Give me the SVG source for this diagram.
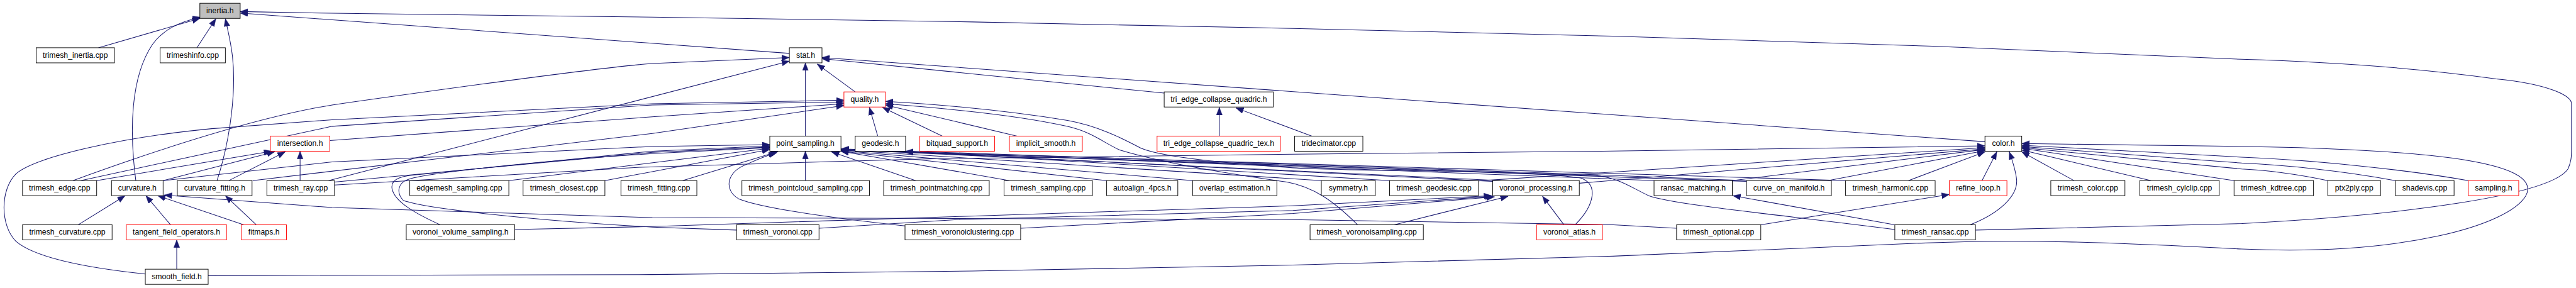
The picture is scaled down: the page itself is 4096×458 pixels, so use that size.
<svg xmlns="http://www.w3.org/2000/svg" width="4096" height="458" viewBox="0 0 4096 458">
<defs>
<style>
.n rect{fill:#fff;stroke:#000;stroke-width:1}
.n.r rect{stroke:#f00}
.n.g rect{fill:#bfbfbf}
.n text{font-family:"Liberation Sans",Arial,sans-serif;font-size:13px;text-anchor:middle;fill:#000}
#edges path{fill:none;stroke:#191970;stroke-width:1.1;marker-end:url(#a)}
</style>
<marker id="a" markerUnits="userSpaceOnUse" markerWidth="14" markerHeight="11" refX="13" refY="5" orient="auto">
<path d="M0,0 L13,5 L0,10 z" fill="#191970" stroke="#191970" stroke-width="0.5"/>
</marker>
</defs>
<rect width="4096" height="458" fill="#fff"/>
<g transform="scale(0.943)">
<g id="edges">
<path d="M166,80.5 L337,31"/>
<path d="M332,80.5 L364,31.5"/>
<path d="M229,304.5 C218,220 220,130 257,75 C275,50 300,38 338,29"/>
<path d="M366,304.5 C390,230 398,150 392,95 C389,70 385,55 380,31.5"/>
<path d="M1331,90 L405,22"/>
<path d="M3331,388 L3780,377 C4050,363 4300,330 4330,285 C4336,272 4336,262 4336,250 L4336,175 C4336,162 4300,142 4209,133 C4100,118 3950,105 3780,100 L3260,78 L2720,61 L2180,48 L1640,37 L1100,29 L540,22 L405,19.5"/>
<path d="M123,304.5 C300,240 450,195 560,177 C750,150 1000,115 1100,107 L1331,97"/>
<path d="M554,304.5 L1331,103"/>
<path d="M1358,229.5 L1358,106"/>
<path d="M1442,155 L1378,108"/>
<path d="M1963,157 L1386,99"/>
<path d="M3347,239 L1386,97"/>
<path d="M245,462 C150,452 60,435 27,407 C0,380 0,320 27,293 C60,265 200,232 357,217 L560,202 L1100,175 L1423,169"/>
<path d="M136,304.5 L560,213 L1100,177 L1423,172"/>
<path d="M556,237 L1100,197 L1423,175"/>
<path d="M426,304.5 L1100,225 L1423,178"/>
<path d="M1715,229.5 L1493,177"/>
<path d="M1589,229.5 L1488,181"/>
<path d="M1480,229.5 L1466,181"/>
<path d="M2656,379 C2690,345 2695,310 2665,300 C2550,285 2300,290 2180,283 C2060,275 1960,265 1924,250 C1890,232 1850,212 1800,203 C1700,187 1600,177 1493,171"/>
<path d="M2289,379 C2250,340 2215,315 2170,307 C2050,290 1950,272 1888,253 C1860,240 1840,222 1799,213 C1720,195 1600,183 1493,175"/>
<path d="M163,304.5 L458,255"/>
<path d="M275,304.5 L463,256"/>
<path d="M386,304.5 L481,256"/>
<path d="M506,304.5 L506,255"/>
<path d="M132,379 L211,330"/>
<path d="M287.5,379 L246,330"/>
<path d="M411,379 L266,330"/>
<path d="M2827,385 L2720,379 L2160,370 L1100,367 L560,350 L277,329"/>
<path d="M432,379 L380,330"/>
<path d="M298,454 L298,404.5"/>
<path d="M275,304.5 L560,273 L1100,247 L1298,244"/>
<path d="M564,307 L1100,257 L1298,248"/>
<path d="M858,304.5 L1298,250"/>
<path d="M1020,304.5 L1298,252"/>
<path d="M1151,304.5 L1312,255.5"/>
<path d="M742,379 C700,360 665,340 661,318 C658,300 680,296 710,294 L1100,255 L1298,246"/>
<path d="M1242,388 L1100,383 C900,372 720,352 680,338 C668,325 670,308 690,302 C720,292 900,272 1100,259 L1298,249"/>
<path d="M1526,381 C1400,367 1280,350 1245,335 C1220,320 1225,290 1259,277 C1275,270 1290,263 1309,258"/>
<path d="M1358,304.5 L1358,255"/>
<path d="M1544,304.5 L1402,256"/>
<path d="M1702,304.5 L1418,255"/>
<path d="M1866,304.5 L1418,255"/>
<path d="M2011,304.5 L1418,254"/>
<path d="M2228,304.5 L1418,253"/>
<path d="M2530,304.5 L1418,252"/>
<path d="M2945,304.5 L2700,295 L1418,251"/>
<path d="M2789,304.5 L2700,301 L1418,252"/>
<path d="M3195,387 C3000,362 2820,345 2780,330 C2750,316 2730,300 2690,296 L1418,253"/>
<path d="M3112,304.5 L2700,292 L1527,256"/>
<path d="M2343,304.5 L1527,255"/>
<path d="M2517,306 L1527,256"/>
<path d="M2945,306 L1527,257"/>
<path d="M564,312 L1080,282 L1560,268 L2180,260 L2700,255 L3347,246"/>
<path d="M2493,305 L3347,249"/>
<path d="M2663,309 L3347,251"/>
<path d="M2921,304.5 L3347,252"/>
<path d="M3082,304.5 L3347,254"/>
<path d="M3218,304.5 L3347,256"/>
<path d="M3497,304.5 L3409,256"/>
<path d="M3627,304.5 L3409,253"/>
<path d="M3767,304.5 L3409,250"/>
<path d="M3925,304.5 C3870,293 3820,287 3780,285 L3409,249"/>
<path d="M4039,304.5 C3950,288 3850,278 3780,275 L3409,247"/>
<path d="M4162,304.5 C4050,285 3900,270 3780,265 L3409,245"/>
<path d="M351,465 L1100,463 L1640,457 L2180,447 L2720,432 L3240,410 C3400,403 3550,408 3780,420 C4050,432 4230,380 4259,330 C4275,300 4230,280 4138,267 C4050,255 3900,248 3780,247 L3409,242"/>
<path d="M3322,379 C3370,360 3405,330 3400,300 C3398,285 3393,270 3388,256"/>
<path d="M3342,304.5 L3367,256"/>
<path d="M868,387 L1100,382 L1620,365 L2180,347 L2515,330"/>
<path d="M1381,385 L1620,370 L2180,355 L2517,331"/>
<path d="M1721,385 L2180,360 L2520,332"/>
<path d="M2351,379 L2543,331"/>
<path d="M2637,379 L2601,331"/>
<path d="M3195,379 L2922,330"/>
<path d="M2969,379 L3287,328"/>
<path d="M2056,229.5 L2056,181"/>
<path d="M2212,229.5 L2084,182"/>
</g>
<g id="n_inertia" class="n g"><rect x="337" y="5.5" width="68" height="25.5"/><text x="371" y="22.5">inertia.h</text></g>
<g id="n_trimesh_inertia" class="n"><rect x="61" y="80.5" width="132" height="25.5"/><text x="127" y="97.5">trimesh_inertia.cpp</text></g>
<g id="n_trimeshinfo" class="n"><rect x="270" y="80.5" width="110" height="25.5"/><text x="325" y="97.5">trimeshinfo.cpp</text></g>
<g id="n_stat" class="n"><rect x="1331" y="80.5" width="55" height="25.5"/><text x="1358.5" y="97.5">stat.h</text></g>
<g id="n_quality" class="n r"><rect x="1423" y="155" width="70" height="25.5"/><text x="1458" y="172">quality.h</text></g>
<g id="n_teq" class="n"><rect x="1963" y="155" width="184" height="25.5"/><text x="2055" y="172">tri_edge_collapse_quadric.h</text></g>
<g id="n_intersection" class="n r"><rect x="456" y="229.5" width="100" height="25.5"/><text x="506" y="246.5">intersection.h</text></g>
<g id="n_point_sampling" class="n"><rect x="1298" y="229.5" width="120" height="25.5"/><text x="1358" y="246.5">point_sampling.h</text></g>
<g id="n_geodesic" class="n"><rect x="1442" y="229.5" width="85" height="25.5"/><text x="1484.5" y="246.5">geodesic.h</text></g>
<g id="n_bitquad" class="n r"><rect x="1551" y="229.5" width="126" height="25.5"/><text x="1614" y="246.5">bitquad_support.h</text></g>
<g id="n_implicit" class="n r"><rect x="1702" y="229.5" width="123" height="25.5"/><text x="1763.5" y="246.5">implicit_smooth.h</text></g>
<g id="n_teqtex" class="n r"><rect x="1951" y="229.5" width="208" height="25.5"/><text x="2055" y="246.5">tri_edge_collapse_quadric_tex.h</text></g>
<g id="n_tridecimator" class="n"><rect x="2183" y="229.5" width="115" height="25.5"/><text x="2240.5" y="246.5">tridecimator.cpp</text></g>
<g id="n_color" class="n"><rect x="3347" y="229.5" width="62" height="25.5"/><text x="3378" y="246.5">color.h</text></g>
<g id="n_trimesh_edge" class="n"><rect x="38" y="304.5" width="125" height="25.5"/><text x="100.5" y="321.5">trimesh_edge.cpp</text></g>
<g id="n_curvature" class="n"><rect x="188" y="304.5" width="87" height="25.5"/><text x="231.5" y="321.5">curvature.h</text></g>
<g id="n_curvature_fitting" class="n"><rect x="299" y="304.5" width="126" height="25.5"/><text x="362" y="321.5">curvature_fitting.h</text></g>
<g id="n_trimesh_ray" class="n"><rect x="450" y="304.5" width="114" height="25.5"/><text x="507" y="321.5">trimesh_ray.cpp</text></g>
<g id="n_edgemesh_sampling" class="n"><rect x="691" y="304.5" width="167" height="25.5"/><text x="774.5" y="321.5">edgemesh_sampling.cpp</text></g>
<g id="n_trimesh_closest" class="n"><rect x="882" y="304.5" width="138" height="25.5"/><text x="951" y="321.5">trimesh_closest.cpp</text></g>
<g id="n_trimesh_fitting" class="n"><rect x="1047" y="304.5" width="128" height="25.5"/><text x="1111" y="321.5">trimesh_fitting.cpp</text></g>
<g id="n_trimesh_pointcloud_sampling" class="n"><rect x="1251" y="304.5" width="215" height="25.5"/><text x="1358.5" y="321.5">trimesh_pointcloud_sampling.cpp</text></g>
<g id="n_trimesh_pointmatching" class="n"><rect x="1490" y="304.5" width="178" height="25.5"/><text x="1579" y="321.5">trimesh_pointmatching.cpp</text></g>
<g id="n_trimesh_sampling" class="n"><rect x="1693" y="304.5" width="149" height="25.5"/><text x="1767.5" y="321.5">trimesh_sampling.cpp</text></g>
<g id="n_autoalign" class="n"><rect x="1866" y="304.5" width="120" height="25.5"/><text x="1926" y="321.5">autoalign_4pcs.h</text></g>
<g id="n_overlap" class="n"><rect x="2011" y="304.5" width="142" height="25.5"/><text x="2082" y="321.5">overlap_estimation.h</text></g>
<g id="n_symmetry" class="n"><rect x="2228" y="304.5" width="91" height="25.5"/><text x="2273.5" y="321.5">symmetry.h</text></g>
<g id="n_trimesh_geodesic" class="n"><rect x="2343" y="304.5" width="150" height="25.5"/><text x="2418" y="321.5">trimesh_geodesic.cpp</text></g>
<g id="n_voronoi_processing" class="n"><rect x="2517" y="304.5" width="146" height="25.5"/><text x="2590" y="321.5">voronoi_processing.h</text></g>
<g id="n_ransac_matching" class="n"><rect x="2789" y="304.5" width="132" height="25.5"/><text x="2855" y="321.5">ransac_matching.h</text></g>
<g id="n_curve_on_manifold" class="n"><rect x="2945" y="304.5" width="143" height="25.5"/><text x="3016.5" y="321.5">curve_on_manifold.h</text></g>
<g id="n_trimesh_harmonic" class="n"><rect x="3112" y="304.5" width="151" height="25.5"/><text x="3187.5" y="321.5">trimesh_harmonic.cpp</text></g>
<g id="n_refine_loop" class="n r"><rect x="3287" y="304.5" width="97" height="25.5"/><text x="3335.5" y="321.5">refine_loop.h</text></g>
<g id="n_trimesh_color" class="n"><rect x="3458" y="304.5" width="125" height="25.5"/><text x="3520.5" y="321.5">trimesh_color.cpp</text></g>
<g id="n_trimesh_cylclip" class="n"><rect x="3608" y="304.5" width="134" height="25.5"/><text x="3675" y="321.5">trimesh_cylclip.cpp</text></g>
<g id="n_trimesh_kdtree" class="n"><rect x="3767" y="304.5" width="134" height="25.5"/><text x="3834" y="321.5">trimesh_kdtree.cpp</text></g>
<g id="n_ptx2ply" class="n"><rect x="3925" y="304.5" width="89" height="25.5"/><text x="3969.5" y="321.5">ptx2ply.cpp</text></g>
<g id="n_shadevis" class="n"><rect x="4039" y="304.5" width="99" height="25.5"/><text x="4088.5" y="321.5">shadevis.cpp</text></g>
<g id="n_sampling" class="n r"><rect x="4162" y="304.5" width="85" height="25.5"/><text x="4204.5" y="321.5">sampling.h</text></g>
<g id="n_trimesh_curvature" class="n"><rect x="38" y="379" width="151" height="25.5"/><text x="113.5" y="396">trimesh_curvature.cpp</text></g>
<g id="n_tangent" class="n r"><rect x="213" y="379" width="169" height="25.5"/><text x="297.5" y="396">tangent_field_operators.h</text></g>
<g id="n_fitmaps" class="n r"><rect x="407" y="379" width="76" height="25.5"/><text x="445" y="396">fitmaps.h</text></g>
<g id="n_vvs" class="n"><rect x="685" y="379" width="183" height="25.5"/><text x="776.5" y="396">voronoi_volume_sampling.h</text></g>
<g id="n_trimesh_voronoi" class="n"><rect x="1242" y="379" width="139" height="25.5"/><text x="1311.5" y="396">trimesh_voronoi.cpp</text></g>
<g id="n_trimesh_voronoiclustering" class="n"><rect x="1526" y="379" width="195" height="25.5"/><text x="1623.5" y="396">trimesh_voronoiclustering.cpp</text></g>
<g id="n_trimesh_voronoisampling" class="n"><rect x="2209" y="379" width="191" height="25.5"/><text x="2304.5" y="396">trimesh_voronoisampling.cpp</text></g>
<g id="n_voronoi_atlas" class="n r"><rect x="2591" y="379" width="111" height="25.5"/><text x="2646.5" y="396">voronoi_atlas.h</text></g>
<g id="n_trimesh_optional" class="n"><rect x="2827" y="379" width="142" height="25.5"/><text x="2898" y="396">trimesh_optional.cpp</text></g>
<g id="n_trimesh_ransac" class="n"><rect x="3195" y="379" width="136" height="25.5"/><text x="3263" y="396">trimesh_ransac.cpp</text></g>
<g id="n_smooth_field" class="n"><rect x="245" y="454" width="106" height="25.5"/><text x="298" y="471">smooth_field.h</text></g>
</g>
</svg>
